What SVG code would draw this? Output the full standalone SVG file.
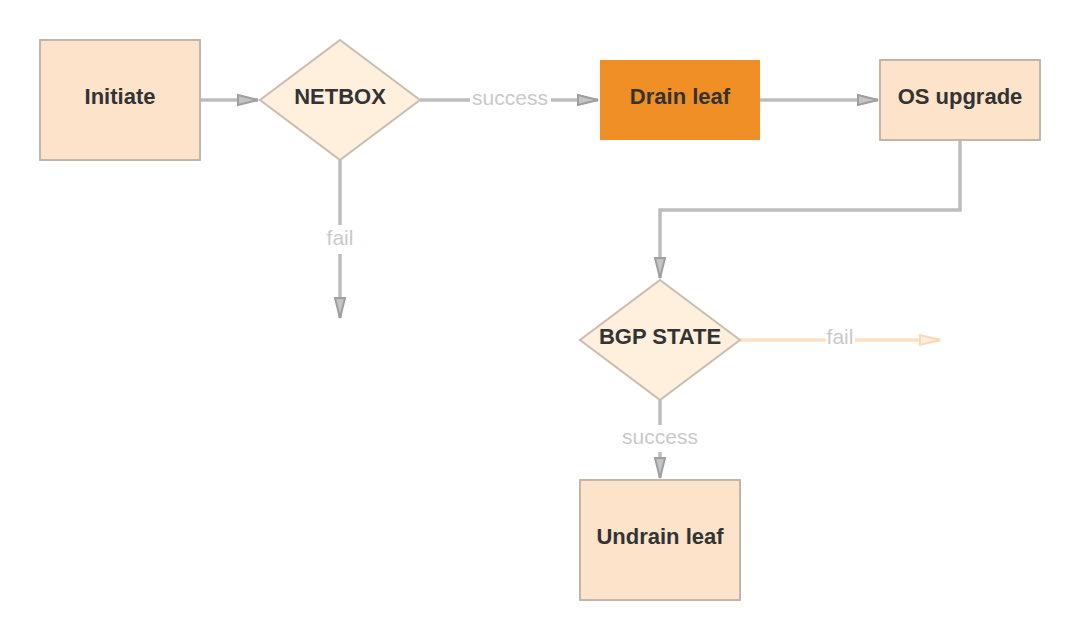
<svg xmlns="http://www.w3.org/2000/svg" width="1080" height="640" viewBox="0 0 1080 640">
<style>
.box{fill:#fce3c9;stroke:#c2b6aa;stroke-width:2}
.dia{fill:#fff0dd;stroke:#c9bdb0;stroke-width:2}
.lbl{font-family:"Liberation Sans",Arial,sans-serif;font-size:22px;font-weight:bold;fill:#333333;text-anchor:middle;dominant-baseline:central}
.edge{fill:none;stroke:#bdbdbd;stroke-width:3.5}
.edge2{fill:none;stroke:#fde0c2;stroke-width:3.5}
.elbl{font-family:"Liberation Sans",Arial,sans-serif;font-size:21px;fill:#c9c9c9;text-anchor:middle;dominant-baseline:central}
</style>
<defs>
<marker id="ah" viewBox="0 0 22 14" refX="21" refY="7" markerWidth="22" markerHeight="14" markerUnits="userSpaceOnUse" orient="auto">
<path d="M1,2 L21,7 L1,12 Z" fill="#c4c4c4" stroke="#9e9e9e" stroke-width="2"/>
</marker>
<marker id="ah2" viewBox="0 0 22 14" refX="21" refY="7" markerWidth="22" markerHeight="14" markerUnits="userSpaceOnUse" orient="auto">
<path d="M1,2 L21,7 L1,12 Z" fill="#fff0dd" stroke="#fcd9b4" stroke-width="2"/>
</marker>
</defs>
<rect width="1080" height="640" fill="#ffffff"/>
<g id="connectors">
<path class="edge" d="M200,100 L258,100" marker-end="url(#ah)"/>
<path class="edge" d="M420,100 L470,100 M551,100 L598,100" marker-end="url(#ah)"/>
<text class="elbl" x="510" y="97">success</text>
<path class="edge" d="M760,100 L878,100" marker-end="url(#ah)"/>
<path class="edge" d="M960,140 L960,210 L660,210 L660,278" marker-end="url(#ah)"/>
<path class="edge" d="M340,160 L340,225 M340,254 L340,318" marker-end="url(#ah)"/>
<text class="elbl" x="340" y="237">fail</text>
<path class="edge2" d="M740,340 L826,340 M855,340 L940,340" marker-end="url(#ah2)"/>
<text class="elbl" x="840" y="336">fail</text>
<path class="edge" d="M660,400 L660,425 M660,452 L660,478" marker-end="url(#ah)"/>
<text class="elbl" x="660" y="436">success</text>
</g>
<g id="initiate">
<rect class="box" x="40" y="40" width="160" height="120"/>
<text class="lbl" x="120" y="96">Initiate</text>
</g>
<g id="netbox">
<polygon class="dia" points="340,40 420,100 340,160 260,100"/>
<text class="lbl" x="340" y="96">NETBOX</text>
</g>
<g id="drain">
<rect x="600" y="60" width="160" height="80" fill="#f08f25"/>
<text class="lbl" x="680" y="96">Drain leaf</text>
</g>
<g id="osupgrade">
<rect class="box" x="880" y="60" width="160" height="80"/>
<text class="lbl" x="960" y="96">OS upgrade</text>
</g>
<g id="bgp">
<polygon class="dia" points="660,280 740,340 660,400 580,340"/>
<text class="lbl" x="660" y="336">BGP STATE</text>
</g>
<g id="undrain">
<rect class="box" x="580" y="480" width="160" height="120"/>
<text class="lbl" x="660" y="536">Undrain leaf</text>
</g>
</svg>
